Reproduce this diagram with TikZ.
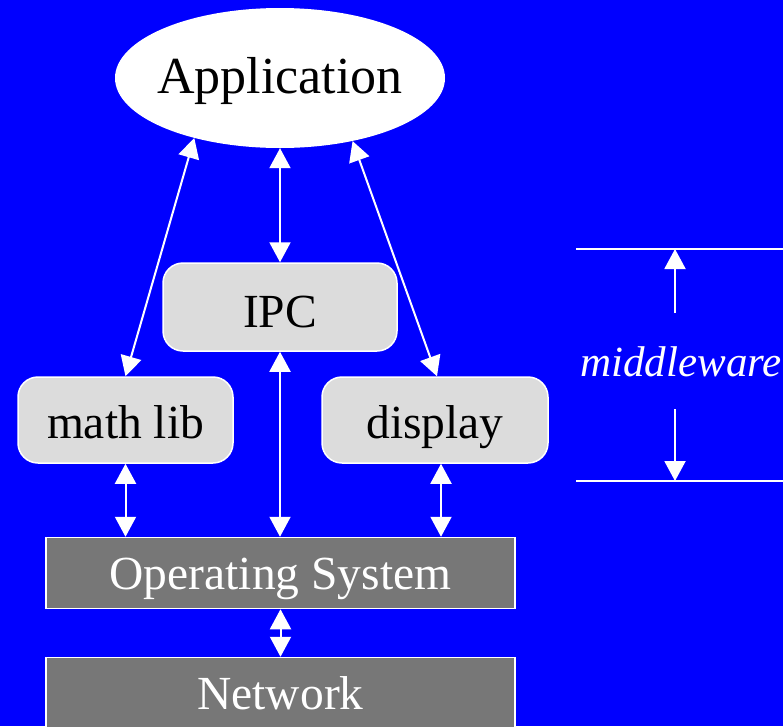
\documentclass[tikz,border=0pt]{standalone}
\usepackage{fontspec}
\setmainfont{Liberation Serif}
\usetikzlibrary{arrows.meta,shapes.geometric,positioning}

\definecolor{libgray}{RGB}{220,220,220}
\definecolor{osgray}{RGB}{119,119,119}

\tikzset{
    app/.style={
           ellipse,
           fill=white,
           minimum width=330pt,
           minimum height=140pt,
           inner xsep=-10pt,
           inner ysep=0pt,
           text height=30pt,
           text depth=0pt,
           font=\fontsize{52}{60}\selectfont,
           },
    lib/.style={
           rectangle,
           rounded corners=20pt,
           draw=white, line width=1.5pt,
           fill=libgray,
           minimum height=86pt,
           inner sep=2pt,
           text height=37pt,
           text depth=0pt,
           font=\fontsize{47.5}{56}\selectfont,
           },
    sys/.style={
           rectangle,
           draw=white, line width=1.5pt,
           fill=osgray,
           text=white,
           minimum width=469pt,
           minimum height=71pt,
           text height=33pt,
           text depth=0pt,
           font=\fontsize{47.5}{56}\selectfont,
           },
    link/.style={
           white, line width=2pt,
           {Triangle[width=21pt,length=20pt]}-{Triangle[width=21pt,length=20pt]},
           },
    bound/.style={
           white, line width=2pt,
           },
}

\begin{document}
\begin{tikzpicture}[x=1pt,y=-1pt]

 % background
 \fill[blue] (0,0) rectangle (783,726);
 \useasboundingbox (0,0) rectangle (783,726);

 % top level
 \node[app] (APP) at (280,78) {Application};

 % middleware boxes
 \node[lib, minimum width=234pt, minimum height=88pt, text height=40pt] (IPC) at (280,307) {IPC};
 \node[lib, minimum width=215pt] (MATHLIB) at (125.5,420) {math lib};
 \node[lib, minimum width=226pt] (DISPLAY) at (435,420) {display};

 % system layers
 \node[sys] (OS) at (280.5,573) {Operating System};
 \node[sys] (NET) at (280.5,693) {Network};

 % connections
 \draw[link] (APP.215) -- (MATHLIB.north);
 \draw[link] (APP.south) -- (IPC.north);
 \draw[link] (APP.-41) -- ([xshift=2pt]DISPLAY.north);
 \draw[link] (IPC.south) -- (IPC.south |- OS.north);
 \draw[link] (MATHLIB.south) -- (MATHLIB.south |- OS.north);
 \draw[link] ([xshift=6pt]DISPLAY.south) -- ([xshift=6pt]DISPLAY.south |- OS.north);
 \draw[link] (OS.south) -- (NET.north);

 % middleware span on the right
 \coordinate (TOPL) at (576,249);
 \coordinate (TOPR) at (783,249);
 \coordinate (BOTL) at (576,481);
 \coordinate (BOTR) at (783,481);
 \draw[bound] (TOPL) -- (TOPR);
 \draw[bound] (BOTL) -- (BOTR);

 \node[text=white, font=\fontsize{43}{50}\selectfont\itshape] (MW) at (681,362) {middleware};
 \coordinate (UPFROM) at (675,313);
 \coordinate (DOWNFROM) at (675,409);
 \draw[bound, -{Triangle[width=21pt,length=20pt]}] (UPFROM) -- (UPFROM |- TOPL);
 \draw[bound, -{Triangle[width=21pt,length=20pt]}] (DOWNFROM) -- (DOWNFROM |- BOTL);

\end{tikzpicture}
\end{document}
